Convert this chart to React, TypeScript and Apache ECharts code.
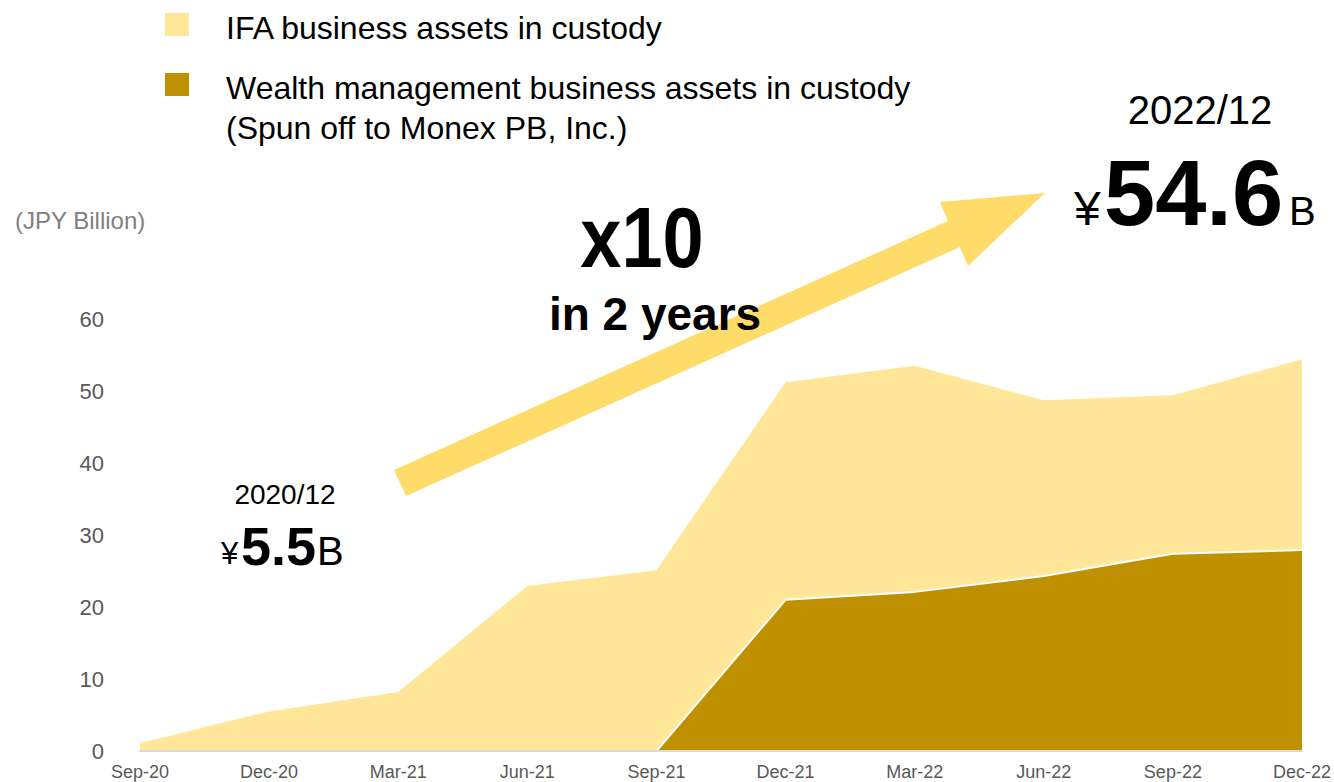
import React, { useEffect, useRef } from "react";
import * as echarts from "echarts";

const categories = ["Sep-20", "Dec-20", "Mar-21", "Jun-21", "Sep-21", "Dec-21", "Mar-22", "Jun-22", "Sep-22", "Dec-22"];
// Top edge of the light area (IFA + wealth management, total assets in custody)
const totalAssets = [1.1, 5.5, 8.2, 22.9, 25.1, 51.2, 53.5, 48.7, 49.4, 54.4];
// Wealth management business assets (dark area)
const wealthAssets: (number | null)[] = [null, null, null, null, 0, 21.0, 22.1, 24.3, 27.4, 27.9];
const yTicks = { min: 0, max: 60, interval: 10 };
const legendNames = ["IFA business assets in custody", "Wealth management business assets in custody"];

const FONT = "'Liberation Sans', Arial, sans-serif";
const LIGHT = "#FFE699";
const DARK = "#BF9000";
const ARROW = "#FFDC6A";

// y for a 'middle'-aligned text so that its baseline lands on `baseline`
const mid = (baseline: number, size: number) => baseline - 0.3465 * size;

export default function App() {
  const ref = useRef<HTMLDivElement>(null);
  useEffect(() => {
    if (!ref.current) return;
    const chart = echarts.init(ref.current, undefined, { renderer: "svg" });
    const t = (x: number, baseline: number, size: number, text: string, bold = false) => ({
      type: "text", z: 10, x, y: mid(baseline, size),
      style: { text, font: `${bold ? "bold " : ""}${size}px ${FONT}`, fill: "#000", textAlign: "left", textVerticalAlign: "middle" },
    });
    chart.setOption({
      animation: false,
      backgroundColor: "#ffffff",
      textStyle: { fontFamily: FONT },
      grid: { left: 140, right: 29, top: 319, bottom: 31, containLabel: false },
      xAxis: {
        type: "category",
        data: categories,
        boundaryGap: false,
        z: 5,
        axisLine: { show: true, lineStyle: { color: "#D9D9D9", width: 2 } },
        axisTick: { show: false },
        axisLabel: { color: "#595959", fontSize: 18, margin: 12, fontFamily: FONT, interval: 0 },
        splitLine: { show: false },
      },
      yAxis: {
        type: "value",
        min: yTicks.min,
        max: yTicks.max,
        interval: yTicks.interval,
        axisLine: { show: false },
        axisTick: { show: false },
        splitLine: { show: false },
        axisLabel: { color: "#595959", fontSize: 22, margin: 36, fontFamily: FONT },
      },
      series: [
        {
          name: legendNames[0],
          type: "line",
          data: totalAssets,
          showSymbol: false,
          symbol: "none",
          lineStyle: { width: 0, color: LIGHT },
          areaStyle: { color: LIGHT, opacity: 1 },
          z: 2,
        },
        {
          name: legendNames[1],
          type: "line",
          data: wealthAssets,
          showSymbol: false,
          symbol: "none",
          connectNulls: false,
          lineStyle: { width: 2, color: "#ffffff" },
          areaStyle: { color: DARK, opacity: 1 },
          z: 3,
        },
      ],
      graphic: [
        // legend
        { type: "rect", left: 165, top: 13, shape: { width: 24, height: 23 }, style: { fill: LIGHT } },
        { type: "text", x: 226, y: 28, style: { text: legendNames[0], font: `32px ${FONT}`, fill: "#000", textVerticalAlign: "middle" } },
        { type: "rect", left: 165, top: 73, shape: { width: 24, height: 23 }, style: { fill: DARK } },
        { type: "text", x: 226, y: 88, style: { text: legendNames[1], font: `32px ${FONT}`, fill: "#000", textVerticalAlign: "middle" } },
        { type: "text", x: 226, y: 128, style: { text: "(Spun off to Monex PB, Inc.)", font: `32px ${FONT}`, fill: "#000", textVerticalAlign: "middle" } },
        // unit
        { type: "text", x: 15, y: 220, style: { text: "(JPY Billion)", font: `24px ${FONT}`, fill: "#808080", textVerticalAlign: "middle" } },
        // arrow
        {
          type: "polygon",
          z: 1,
          shape: {
            points: [
              [394, 470], [948, 221], [940, 202], [1045, 193], [968, 266], [960, 247], [406, 496],
            ],
          },
          style: { fill: ARROW },
        },
        // x10 text
        { type: "text", z: 10, x: 642, y: 237, scaleX: 0.86, style: { text: "x10", font: `bold 86px ${FONT}`, fill: "#000", textAlign: "center", textVerticalAlign: "middle" } },
        { type: "text", z: 10, x: 655, y: 314, style: { text: "in 2 years", font: `bold 46px ${FONT}`, fill: "#000", textAlign: "center", textVerticalAlign: "middle" } },
        // 2022/12
        { type: "text", z: 10, x: 1200, y: 110, style: { text: "2022/12", font: `40px ${FONT}`, fill: "#000", textAlign: "center", textVerticalAlign: "middle" } },
        t(1074, 225, 48, "¥"),
        t(1104, 225, 92, "54.6", true),
        t(1289, 225, 40, "B"),
        // 2020/12
        { type: "text", z: 10, x: 285, y: 494, style: { text: "2020/12", font: `28px ${FONT}`, fill: "#000", textAlign: "center", textVerticalAlign: "middle" } },
        t(221, 564, 31, "¥"),
        t(241, 565, 54, "5.5", true),
        t(317, 565, 40, "B"),
      ],
    });
    return () => chart.dispose();
  }, []);
  return <div ref={ref} style={{ position: "fixed", left: 0, top: 0, width: 1334, height: 782 }} />;
}
